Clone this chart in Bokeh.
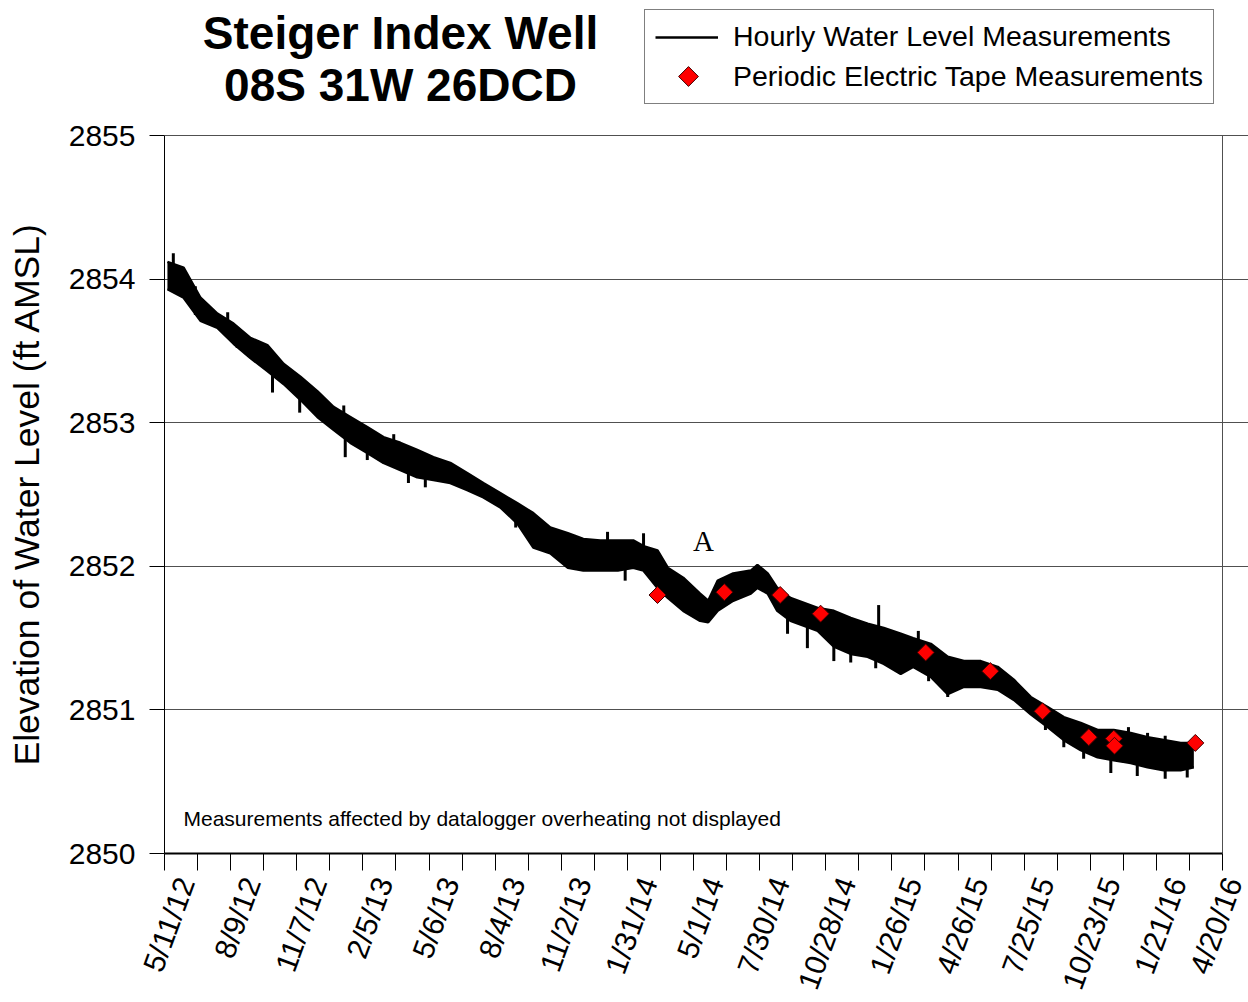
import math
from datetime import datetime
from bokeh.plotting import figure
from bokeh.models import (Range1d, FixedTicker, Legend, LegendItem, Label, LinearAxis, Title)
from bokeh.embed import file_html
from bokeh.resources import INLINE

# ---------------- data ----------------
title_lines = ["Steiger Index Well", "08S 31W 26DCD"]
y_label = "Elevation of Water Level (ft AMSL)"
note_text = "Measurements affected by datalogger overheating not displayed"
series_names = ["Hourly Water Level Measurements", "Periodic Electric Tape Measurements"]
annotation_text = "A"

x_tick_labels = ["5/11/12", "8/9/12", "11/7/12", "2/5/13", "5/6/13", "8/4/13", "11/2/13",
                 "1/31/14", "5/1/14", "7/30/14", "10/28/14", "1/26/15", "4/26/15",
                 "7/25/15", "10/23/15", "1/21/16", "4/20/16"]
y_ticks = [2850, 2851, 2852, 2853, 2854, 2855]

# envelope of the hourly record (upper / lower edge of the dense trace)
hourly_dates = ["2012-05-15", "2012-06-06", "2012-06-29", "2012-07-22", "2012-08-13",
                "2012-09-05", "2012-09-28", "2012-10-20", "2012-11-12", "2012-12-05",
                "2012-12-27", "2013-01-19", "2013-02-11", "2013-03-05", "2013-03-28",
                "2013-04-20", "2013-05-12", "2013-06-04", "2013-06-27", "2013-07-19",
                "2013-08-11", "2013-09-03", "2013-09-25", "2013-10-18", "2013-11-11",
                "2013-12-02", "2013-12-25", "2014-01-18", "2014-02-08", "2014-02-22",
                "2014-03-13", "2014-03-27", "2014-04-17", "2014-05-10", "2014-05-21",
                "2014-06-03", "2014-06-24", "2014-07-18", "2014-07-27", "2014-08-10",
                "2014-08-23", "2014-09-10", "2014-10-17", "2014-11-08", "2014-12-01",
                "2014-12-24", "2015-01-15", "2015-02-07", "2015-02-24", "2015-03-20",
                "2015-04-12", "2015-05-04", "2015-05-27", "2015-06-19", "2015-07-11",
                "2015-08-03", "2015-08-26", "2015-09-17", "2015-10-10", "2015-11-02",
                "2015-11-24", "2015-12-17", "2016-01-09", "2016-01-31", "2016-02-23",
                "2016-03-12"]
hourly_high = [2854.12, 2854.08, 2853.87, 2853.76, 2853.69, 2853.59, 2853.54, 2853.41,
               2853.32, 2853.22, 2853.11, 2853.04, 2852.97, 2852.90, 2852.86, 2852.81,
               2852.76, 2852.72, 2852.65, 2852.58, 2852.51, 2852.44, 2852.37, 2852.27,
               2852.23, 2852.19, 2852.18, 2852.18, 2852.18, 2852.14, 2852.11, 2851.99,
               2851.92, 2851.81, 2851.76, 2851.90, 2851.95, 2851.97, 2852.01, 2851.95,
               2851.85, 2851.78, 2851.71, 2851.69, 2851.64, 2851.60, 2851.57, 2851.53,
               2851.50, 2851.46, 2851.37, 2851.34, 2851.34, 2851.30, 2851.21, 2851.09,
               2851.02, 2850.95, 2850.91, 2850.86, 2850.86, 2850.84, 2850.81, 2850.79,
               2850.77, 2850.77]
hourly_low = [2853.93, 2853.87, 2853.71, 2853.66, 2853.55, 2853.45, 2853.36, 2853.27,
              2853.16, 2853.04, 2852.95, 2852.86, 2852.79, 2852.72, 2852.67, 2852.62,
              2852.60, 2852.58, 2852.53, 2852.48, 2852.41, 2852.30, 2852.13, 2852.09,
              2851.99, 2851.97, 2851.97, 2851.97, 2851.99, 2851.97, 2851.85, 2851.78,
              2851.69, 2851.62, 2851.61, 2851.69, 2851.76, 2851.81, 2851.85, 2851.81,
              2851.69, 2851.62, 2851.55, 2851.44, 2851.39, 2851.37, 2851.32, 2851.25,
              2851.30, 2851.23, 2851.11, 2851.16, 2851.16, 2851.14, 2851.07, 2850.97,
              2850.88, 2850.79, 2850.72, 2850.67, 2850.65, 2850.63, 2850.60, 2850.58,
              2850.58, 2850.60]

# isolated spikes in the hourly record (start / end level)
spike_dates = ["2012-05-21", "2012-05-23", "2012-06-22", "2012-08-05", "2012-08-18",
               "2012-10-05", "2012-11-11", "2013-01-10", "2013-01-12", "2013-02-11",
               "2013-03-19", "2013-04-08", "2013-05-01", "2013-09-01", "2013-09-17",
               "2014-01-04", "2014-01-28", "2014-02-22", "2014-09-06", "2014-10-03",
               "2014-11-08", "2014-12-01", "2015-01-04", "2015-01-08", "2015-03-03",
               "2015-03-17", "2015-04-12", "2015-08-23", "2015-09-17", "2015-10-14",
               "2015-11-20", "2015-12-14", "2015-12-26", "2016-01-09", "2016-02-02",
               "2016-03-03"]
spike_from = [2854.05, 2854.00, 2853.95, 2853.65, 2853.65, 2853.40, 2853.25, 2852.95,
              2852.95, 2852.88, 2852.80, 2852.72, 2852.68, 2852.40, 2852.28, 2852.10,
              2852.00, 2852.05, 2851.68, 2851.60, 2851.55, 2851.45, 2851.42, 2851.50,
              2851.42, 2851.35, 2851.25, 2850.97, 2850.85, 2850.78, 2850.75, 2850.78,
              2850.65, 2850.75, 2850.52, 2850.65]
spike_to = [2853.91, 2854.18, 2853.75, 2853.77, 2853.52, 2853.21, 2853.07, 2853.12,
            2852.76, 2852.74, 2852.92, 2852.58, 2852.55, 2852.27, 2852.37, 2852.24,
            2851.90, 2852.23, 2851.53, 2851.43, 2851.34, 2851.33, 2851.29, 2851.73,
            2851.55, 2851.20, 2851.09, 2850.86, 2850.74, 2850.66, 2850.56, 2850.88,
            2850.54, 2850.84, 2850.82, 2850.53]

# periodic electric tape measurements
tape_dates = ["2014-03-13", "2014-06-12", "2014-08-27", "2014-10-21", "2015-03-13",
              "2015-06-09", "2015-08-19", "2015-10-21", "2015-11-24", "2015-11-25",
              "2016-03-14"]
tape_levels = [2851.80, 2851.82, 2851.80, 2851.67, 2851.40, 2851.27, 2850.99, 2850.81,
               2850.80, 2850.75, 2850.77]

# ---------------- helpers ----------------
EPOCH = datetime(1970, 1, 1)


def ms(d):
    return (d - EPOCH).total_seconds() * 1000.0


def iso_ms(values):
    return [ms(datetime.strptime(s, "%Y-%m-%d")) for s in values]


tick_ms = [ms(datetime.strptime(s, "%m/%d/%y")) for s in x_tick_labels]
minor_ms = [(a + b) / 2 for a, b in zip(tick_ms[:-1], tick_ms[1:])]
hourly_ms = iso_ms(hourly_dates)
spike_ms = iso_ms(spike_dates)
tape_ms = iso_ms(tape_dates)

FONT = "Liberation Sans"
GRID = "#505050"

# ---------------- layout (pixels) ----------------
W, H = 1248, 1002
PLOT_LEFT, PLOT_RIGHT, PLOT_TOP, PLOT_BOTTOM = 164, 1222, 135, 853
MS_PER_PX = (tick_ms[-1] - tick_ms[0]) / (PLOT_RIGHT - PLOT_LEFT)
PX_PER_FT = (PLOT_BOTTOM - PLOT_TOP) / (y_ticks[-1] - y_ticks[0])
# the frame is stretched up to the canvas top and to its right edge so the title,
# legend and shifted tick labels are not clipped; axis/grid bounds keep the plot box
x_end = tick_ms[-1] + (W - PLOT_RIGHT) * MS_PER_PX
y_end = y_ticks[0] + PLOT_BOTTOM / PX_PER_FT
LABEL_SHIFT_MS = 21 * MS_PER_PX   # rotated labels sit centred on their ticks


def px_to_x(px):
    return tick_ms[0] + (px - PLOT_LEFT) * MS_PER_PX


def py_to_y(py):
    return y_ticks[0] + (PLOT_BOTTOM - py) / PX_PER_FT


def sx(px):
    return px - PLOT_LEFT


def sy_base(py, size):
    # screen y (from frame bottom) for a text whose baseline should sit at page y
    return PLOT_BOTTOM - py + 0.33 * size


p = figure(width=W, height=H, output_backend="svg", toolbar_location=None,
           x_range=Range1d(tick_ms[0], x_end),
           y_range=Range1d(y_ticks[0], y_end),
           min_border_left=PLOT_LEFT, min_border_right=0,
           min_border_top=0, min_border_bottom=H - PLOT_BOTTOM)
p.background_fill_color = "white"
p.border_fill_color = "white"
p.outline_line_color = None

# grid
p.xgrid.visible = False
p.ygrid.ticker = FixedTicker(ticks=y_ticks)
p.ygrid.bounds = (tick_ms[0], tick_ms[-1])
p.ygrid.grid_line_color = GRID
p.ygrid.grid_line_width = 1

# right border of the plot box
p.line([tick_ms[-1], tick_ms[-1]], [y_ticks[0], y_ticks[-1]], line_color=GRID, line_width=1)

# x axis: ticks and axis line
xa = p.xaxis[0]
xa.bounds = (tick_ms[0], tick_ms[-1])
xa.ticker = FixedTicker(ticks=tick_ms, minor_ticks=minor_ms)
xa.major_label_overrides = {t: "" for t in tick_ms}
xa.major_label_text_font_size = "1px"
xa.major_label_standoff = 0
xa.major_tick_in = 0
xa.major_tick_out = 17
xa.minor_tick_in = 0
xa.minor_tick_out = 17
xa.major_tick_line_color = "black"
xa.minor_tick_line_color = "black"
xa.axis_line_color = "black"
xa.axis_line_width = 2

# x axis: rotated date labels
label_ms = [t + LABEL_SHIFT_MS for t in tick_ms]
xlab = LinearAxis(ticker=FixedTicker(ticks=label_ms),
                  major_label_overrides={t: lab for t, lab in zip(label_ms, x_tick_labels)},
                  major_label_orientation=math.radians(70),
                  major_label_text_font=FONT, major_label_text_font_size="30px",
                  major_label_text_color="black", major_label_standoff=8,
                  axis_line_color=None, major_tick_line_color=None,
                  minor_tick_line_color=None, major_tick_in=0, major_tick_out=0,
                  minor_tick_in=0, minor_tick_out=0)
p.add_layout(xlab, "below")

# y axis
ya = p.yaxis[0]
ya.bounds = (y_ticks[0], y_ticks[-1])
ya.ticker = FixedTicker(ticks=y_ticks)
ya.minor_tick_line_color = None
ya.major_tick_in = 0
ya.major_tick_out = 15
ya.major_tick_line_color = "black"
ya.major_label_standoff = 14
ya.major_label_text_font = FONT
ya.major_label_text_font_size = "30px"
ya.major_label_text_color = "black"
ya.axis_line_color = "black"
# blank spacer between the tick labels and the axis title
ya.axis_label = " "
ya.axis_label_text_font_size = "1px"
ya.axis_label_standoff = 7

# y axis title, starting 88 px above the x axis like the reference
p.add_layout(Title(text=y_label, align="left", offset=88, vertical_align="top",
                   standoff=12, text_font=FONT, text_font_size="35.5px",
                   text_font_style="normal", text_color="black"), "left")

# hourly record: dense trace drawn as its envelope plus isolated spikes
p.varea(x=hourly_ms, y1=hourly_low, y2=hourly_high, fill_color="black")
hi_line = p.line(hourly_ms, hourly_high, line_color="black", line_width=2.5)
p.line(hourly_ms, hourly_low, line_color="black", line_width=2.5)
p.segment(x0=spike_ms, y0=spike_from, x1=spike_ms, y1=spike_to,
          line_color="black", line_width=3)

TAPE_STYLE = dict(marker="square", angle=math.pi / 4, fill_color="#FF0000",
                  line_color="#400000", line_width=1)
tape = p.scatter(tape_ms, tape_levels, size=12, **TAPE_STYLE)

# legend (the diamond swatch is drawn separately, since legend markers are not rotated)
tape_proxy = p.scatter(x=[], y=[], marker="square", fill_alpha=0, line_alpha=0)
legend = Legend(items=[LegendItem(label=series_names[0], renderers=[hi_line]),
                       LegendItem(label=series_names[1], renderers=[tape_proxy])],
                location=(644 - PLOT_LEFT, PLOT_BOTTOM - 103 - 1), orientation="vertical",
                border_line_color="black", border_line_width=1,
                background_fill_alpha=0.0,
                label_text_font=FONT, label_text_font_size="28.5px",
                label_text_color="black",
                glyph_width=63, glyph_height=28, label_height=28,
                label_standoff=15, padding=10, spacing=7, margin=0)
p.add_layout(legend)
p.scatter([px_to_x(688)], [py_to_y(76)], size=14, **TAPE_STYLE)

# titles and annotations (screen units are relative to the plot frame)
p.add_layout(Label(x=sx(400), y=sy_base(48, 46), x_units="screen", y_units="screen",
                   text=title_lines[0], text_font=FONT, text_font_style="bold",
                   text_font_size="46px", text_align="center", text_baseline="alphabetic",
                   text_color="black"))
p.add_layout(Label(x=sx(400), y=sy_base(100, 46), x_units="screen", y_units="screen",
                   text=title_lines[1], text_font=FONT, text_font_style="bold",
                   text_font_size="46px", text_align="center", text_baseline="alphabetic",
                   text_color="black"))
p.add_layout(Label(x=sx(183), y=sy_base(825, 21), x_units="screen", y_units="screen",
                   text=note_text, text_font=FONT, text_font_size="21px", text_align="left",
                   text_baseline="alphabetic", text_color="black"))
p.add_layout(Label(x=sx(703), y=sy_base(550, 29), x_units="screen", y_units="screen",
                   text=annotation_text, text_font="Liberation Serif", text_font_size="29px",
                   text_align="center", text_baseline="alphabetic", text_color="black"))

open("out.html", "w").write(file_html(p, INLINE))
